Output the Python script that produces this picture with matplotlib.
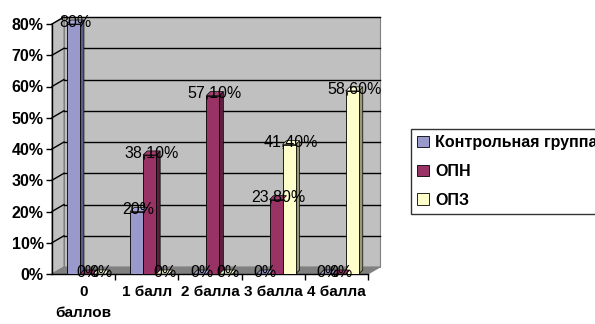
import matplotlib
matplotlib.use("Agg")
import matplotlib.pyplot as plt
from matplotlib.patches import Polygon
from matplotlib.transforms import IdentityTransform
import numpy as np

# Data
categories = ["0\nбаллов", "1 балл", "2 балла", "3 балла", "4 балла"]
control = [80, 20, 0, 0, 0]
opn = [0, 38.1, 57.1, 23.8, 0]
opz = [0, 0, 0, 41.4, 58.6]
series_names = ["Контрольная группа", "ОПН", "ОПЗ"]
yticks = [0, 10, 20, 30, 40, 50, 60, 70, 80]

colors = ["#9999CC", "#993366", "#FFFFCC"]
side_colors = ["#5C5C8A", "#5C1F3D", "#99997A"]
top_colors = ["#A8A8D8", "#A33D70", "#FFFFD6"]

plt.rcParams["font.family"] = ["Liberation Sans", "DejaVu Sans"]

fig = plt.figure(figsize=(5.95, 3.24), dpi=100)
W, H = 595, 324
ax = fig.add_axes([52 / W, (H - 274) / H, (368 - 52) / W, (274 - 24) / H])
ax.set_xlim(-0.5, 4.5)
ax.set_ylim(0, 80)
ax.patch.set_visible(False)
for s in ax.spines.values():
    s.set_visible(False)

DX, DY = 12, 7  # depth of the 3D frame in pixels
BD = 4  # depth of each bar in pixels


def px(fx, fy):
    return ax.transAxes.transform((fx, fy))


def poly(pts, fc, ec, z, lw=0.8):
    ax.add_patch(Polygon(pts, closed=True, facecolor=fc, edgecolor=ec, lw=lw,
                         transform=IdentityTransform(), zorder=z, clip_on=False))


# walls and floor
p00, p10, p01, p11 = px(0, 0), px(1, 0), px(0, 1), px(1, 1)
d = np.array([DX, DY])
poly([p00 + d, p10 + d, p11 + d, p01 + d], "#C0C0C0", "#808080", 0)
poly([p00, p00 + d, p01 + d, p01], "#C0C0C0", "#808080", 0)
poly([p00, p10, p10 + d, p00 + d], "#808080", "#808080", 0.5)

# gridlines on back wall and side wall
for v in yticks[1:]:
    a = ax.transData.transform((-0.5, v))
    b = ax.transData.transform((4.5, v))
    ax.plot([a[0] + DX, b[0] + DX], [a[1] + DY, b[1] + DY], color="black", lw=1,
            transform=IdentityTransform(), zorder=1, clip_on=False)
    ax.plot([a[0], a[0] + DX], [a[1], a[1] + DY], color="black", lw=1,
            transform=IdentityTransform(), zorder=1, clip_on=False)

# front axis lines
ax.plot([p00[0], p01[0]], [p00[1], p01[1]], color="black", lw=1,
        transform=IdentityTransform(), zorder=1, clip_on=False)
ax.plot([p00[0], p10[0]], [p00[1], p10[1]], color="black", lw=1,
        transform=IdentityTransform(), zorder=1, clip_on=False)

x = np.arange(len(categories))
width = 0.206
shift = 0.045
offsets = [-width, 0, width]


def fmt(v):
    if float(v).is_integer():
        return f"{int(v)}%"
    return f"{v:.2f}".replace(".", ",") + "%"


handles = []
bd = np.array([BD, BD])
for vals, off, c, sc, tc, name in zip([control, opn, opz], offsets, colors,
                                      side_colors, top_colors, series_names):
    xs = x + shift + off
    hb = ax.bar(xs, vals, width, color=c, edgecolor="black", lw=0.6,
                zorder=3, label=name)
    handles.append(hb)
    for xi, v in zip(xs, vals):
        bl = ax.transData.transform((xi - width / 2, 0))
        br = ax.transData.transform((xi + width / 2, 0))
        tl = ax.transData.transform((xi - width / 2, v))
        tr = ax.transData.transform((xi + width / 2, v))
        # side face and top face
        poly([br, tr, tr + bd, br + bd], sc, "black", 2, lw=0.5)
        poly([tl, tr, tr + bd, tl + bd], tc, "black", 3.5, lw=0.5)
        ax.text(xi + 0.03, v + 0.6, fmt(v), ha="center", va="center",
                fontsize=11.5, color="black", zorder=5, clip_on=False)

ax.set_yticks(yticks)
ax.set_yticklabels([f"{v}%" for v in yticks], fontsize=11.5, fontweight="bold")
ax.tick_params(axis="y", length=4, width=1, pad=2)
ax.set_xticks(x)
ax.set_xticklabels(categories, fontsize=11, fontweight="bold", linespacing=1.6)
ax.tick_params(axis="x", length=0, pad=8)
ax.set_xticks(np.arange(0.5, 5, 1), minor=True)
ax.tick_params(axis="x", which="minor", length=4, width=1)

leg = ax.legend(handles=handles, loc="upper left", bbox_to_anchor=(411 / W, 1 - 129 / H),
                bbox_transform=fig.transFigure, frameon=True, fancybox=False,
                edgecolor="black", handlelength=0.7, handleheight=0.7, handletextpad=0.4,
                borderpad=0.4, borderaxespad=0, labelspacing=0.85,
                prop={"size": 11.5, "weight": "bold"})
leg.get_frame().set_linewidth(1)

fig.savefig("out.png", dpi=100)
